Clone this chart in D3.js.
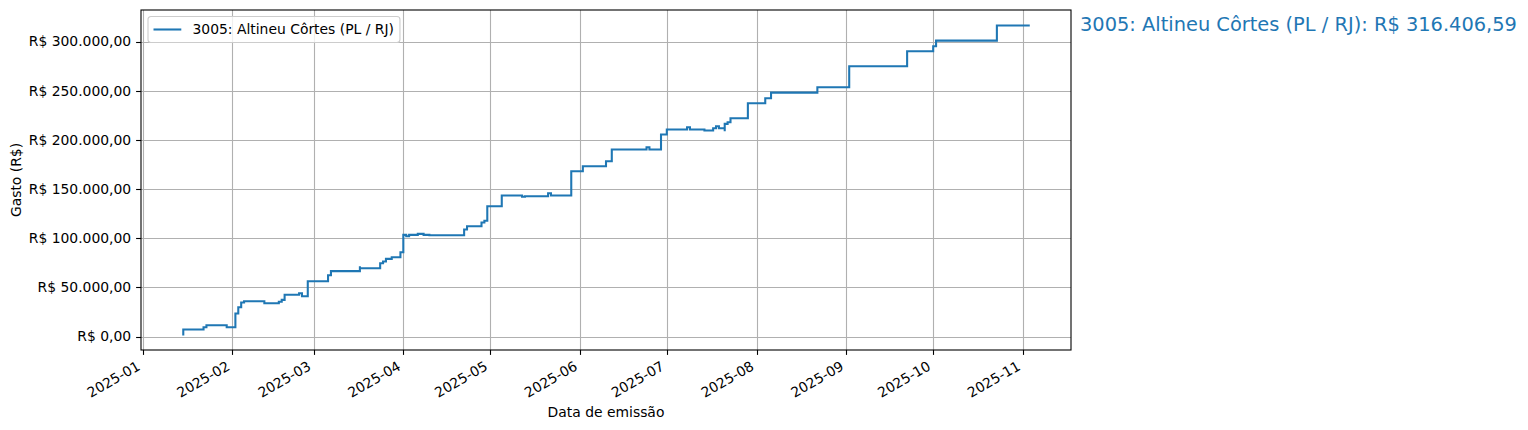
<!DOCTYPE html>
<html>
<head>
<meta charset="utf-8">
<script src="https://cdn.jsdelivr.net/npm/d3@7"></script>
<style>
  body { margin: 0; background: #fff; }
  svg { display: block; font-family: "DejaVu Sans", sans-serif; }
</style>
</head>
<body>
<div id="chart"></div>
<script>
// cumulative spending (step "pre" style)
const emissionDates = [
    "2025-01-15", "2025-01-22", "2025-01-23", "2025-01-30", "2025-02-02", "2025-02-03",
    "2025-02-03", "2025-02-04", "2025-02-05", "2025-02-12", "2025-02-17", "2025-02-18",
    "2025-02-19", "2025-02-24", "2025-02-25", "2025-02-27", "2025-03-06", "2025-03-06",
    "2025-03-07", "2025-03-17", "2025-03-17", "2025-03-24", "2025-03-25", "2025-03-26",
    "2025-03-28", "2025-03-31", "2025-04-01", "2025-04-02", "2025-04-03", "2025-04-06",
    "2025-04-08", "2025-04-10", "2025-04-10", "2025-04-22", "2025-04-23", "2025-04-28",
    "2025-04-29", "2025-04-30", "2025-05-05", "2025-05-05", "2025-05-12", "2025-05-13",
    "2025-05-21", "2025-05-22", "2025-05-29", "2025-06-02", "2025-06-10", "2025-06-10",
    "2025-06-12", "2025-06-24", "2025-06-25", "2025-06-29", "2025-07-01", "2025-07-08",
    "2025-07-09", "2025-07-14", "2025-07-17", "2025-07-18", "2025-07-19", "2025-07-21",
    "2025-07-21", "2025-07-22", "2025-07-23", "2025-07-29", "2025-08-04", "2025-08-06",
    "2025-08-22", "2025-09-02", "2025-09-22", "2025-10-01", "2025-10-02", "2025-10-23",
    "2025-11-03"
];
const cumulativeSpent = [
    2000, 7100, 9500, 11500, 9500, 23400,
    28500, 29800, 34600, 35900, 33900, 35300,
    37300, 42400, 44000, 41000, 56200, 59700,
    62300, 66500, 71500, 69500, 74500, 76300,
    79000, 80600, 85700, 103400, 102000, 103400,
    104400, 103400, 102000, 103000, 108800, 112200,
    115900, 117700, 132500, 138300, 143400, 142200,
    142600, 145800, 143400, 168100, 173200, 175600,
    178300, 190200, 192500, 190200, 205400, 210500,
    212900, 210500, 209500, 211800, 213900, 211800,
    208800, 216300, 217900, 222000, 237300, 242300,
    248100, 253500, 274900, 290100, 295200, 301000,
    316406.59
];
const yTickValues = [0, 50000, 100000, 150000, 200000, 250000, 300000];
const seriesName = "3005: Altineu Côrtes (PL / RJ)";
const xAxisTitle = "Data de emissão";
const yAxisTitle = "Gasto (R$)";

const WIDTH = 1528, HEIGHT = 430;
const margin = { left: 141, right: 457, top: 10, bottom: 80 };
const BLUE = "#1f77b4";

const brl = d3.formatLocale({ decimal: ",", thousands: ".", grouping: [3], currency: ["R$ ", ""] });
const fmtMoney = brl.format("$,.2f");

document.addEventListener('DOMContentLoaded', function() {
    const parse = d3.utcParse("%Y-%m-%d");
    const data = emissionDates.map((d, i) => ({ date: parse(d), value: cumulativeSpent[i] }));

    const svg = d3.select('#chart').append('svg')
        .attr('width', WIDTH)
        .attr('height', HEIGHT);

    const x0 = margin.left, x1 = WIDTH - margin.right;
    const y0 = HEIGHT - margin.bottom, y1 = margin.top;

    // matplotlib style 5% autoscale margins
    const xExt = d3.extent(data, d => +d.date);
    const xPad = (xExt[1] - xExt[0]) * 0.05;
    const yExt = d3.extent(data, d => d.value);
    const yPad = (yExt[1] - yExt[0]) * 0.05;

    const x = d3.scaleUtc().domain([new Date(xExt[0] - xPad), new Date(xExt[1] + xPad)]).range([x0, x1]);
    const y = d3.scaleLinear().domain([yExt[0] - yPad, yExt[1] + yPad]).range([y0, y1]);

    const xTicks = d3.utcMonth.range(d3.utcMonth.ceil(x.domain()[0]), x.domain()[1]);

    // grid
    const grid = svg.append('g').attr('stroke', '#b0b0b0').attr('stroke-width', 1.1);
    grid.selectAll('.gx').data(xTicks).enter().append('line')
        .attr('x1', d => Math.round(x(d)) + 0.5).attr('x2', d => Math.round(x(d)) + 0.5)
        .attr('y1', y1).attr('y2', y0);
    grid.selectAll('.gy').data(yTickValues).enter().append('line')
        .attr('y1', d => Math.round(y(d)) + 0.5).attr('y2', d => Math.round(y(d)) + 0.5)
        .attr('x1', x0).attr('x2', x1);

    // the step line
    const line = d3.line()
        .x(d => x(d.date))
        .y(d => y(d.value))
        .curve(d3.curveStepBefore);
    svg.append('path')
        .datum(data)
        .attr('d', line)
        .attr('fill', 'none')
        .attr('stroke', BLUE)
        .attr('stroke-width', 2.08)
        .attr('stroke-linejoin', 'miter')
        .attr('stroke-linecap', 'square');

    // frame
    svg.append('rect')
        .attr('x', x0).attr('y', y1)
        .attr('width', x1 - x0).attr('height', y0 - y1)
        .attr('fill', 'none').attr('stroke', '#000').attr('stroke-width', 1.1);

    // y axis ticks + labels
    const yAxis = svg.append('g');
    yAxis.selectAll('line').data(yTickValues).enter().append('line')
        .attr('x1', x0 - 4.9).attr('x2', x0)
        .attr('y1', d => Math.round(y(d)) + 0.5).attr('y2', d => Math.round(y(d)) + 0.5)
        .attr('stroke', '#000').attr('stroke-width', 1.1);
    yAxis.selectAll('text').data(yTickValues).enter().append('text')
        .attr('x', x0 - 9.8)
        .attr('y', d => y(d))
        .attr('dy', '0.35em')
        .attr('text-anchor', 'end')
        .style('font-size', '13.9px')
        .text(d => fmtMoney(d));

    // x axis ticks + rotated labels
    const xAxis = svg.append('g');
    xAxis.selectAll('line').data(xTicks).enter().append('line')
        .attr('x1', d => Math.round(x(d)) + 0.5).attr('x2', d => Math.round(x(d)) + 0.5)
        .attr('y1', y0).attr('y2', y0 + 4.9)
        .attr('stroke', '#000').attr('stroke-width', 1.1);
    xAxis.selectAll('text').data(xTicks).enter().append('text')
        .attr('transform', d => `translate(${x(d) - 1.6},${y0 + 9.8 + 9.2}) rotate(-30)`)
        .attr('text-anchor', 'end')
        .style('font-size', '13.9px')
        .text(d => d3.utcFormat("%Y-%m")(d));

    // axis titles
    svg.append('text')
        .attr('x', (x0 + x1) / 2).attr('y', 417)
        .attr('text-anchor', 'middle')
        .style('font-size', '13.9px')
        .text(xAxisTitle);
    svg.append('text')
        .attr('transform', `translate(21,${(y0 + y1) / 2}) rotate(-90)`)
        .attr('text-anchor', 'middle')
        .style('font-size', '13.9px')
        .text(yAxisTitle);

    // legend (upper left)
    const legend = svg.append('g').attr('transform', `translate(${x0 + 7},${y1 + 6.5})`);
    const legBox = legend.append('rect')
        .attr('rx', 3).attr('ry', 3)
        .attr('fill', 'rgba(255,255,255,0.8)')
        .attr('stroke', '#cccccc').attr('stroke-width', 1.1);
    legend.append('line')
        .attr('x1', 5.5).attr('x2', 33.3)
        .attr('y1', 13).attr('y2', 13)
        .attr('stroke', BLUE).attr('stroke-width', 2.08);
    const legText = legend.append('text')
        .attr('x', 44.5).attr('y', 13)
        .attr('dy', '0.35em')
        .style('font-size', '13.9px')
        .text(seriesName);
    const tw = legText.node().getComputedTextLength();
    legBox.attr('width', 44.5 + tw + 6).attr('height', 26);

    // total annotation at the right of the axes
    const last = data[data.length - 1];
    svg.append('text')
        .attr('x', x1 + 9)
        .attr('y', y(last.value))
        .attr('dy', '0.3em')
        .attr('fill', BLUE)
        .style('font-size', '19.4px')
        .text(`${seriesName}: ${fmtMoney(last.value)}`);
});
</script>
</body>
</html>
